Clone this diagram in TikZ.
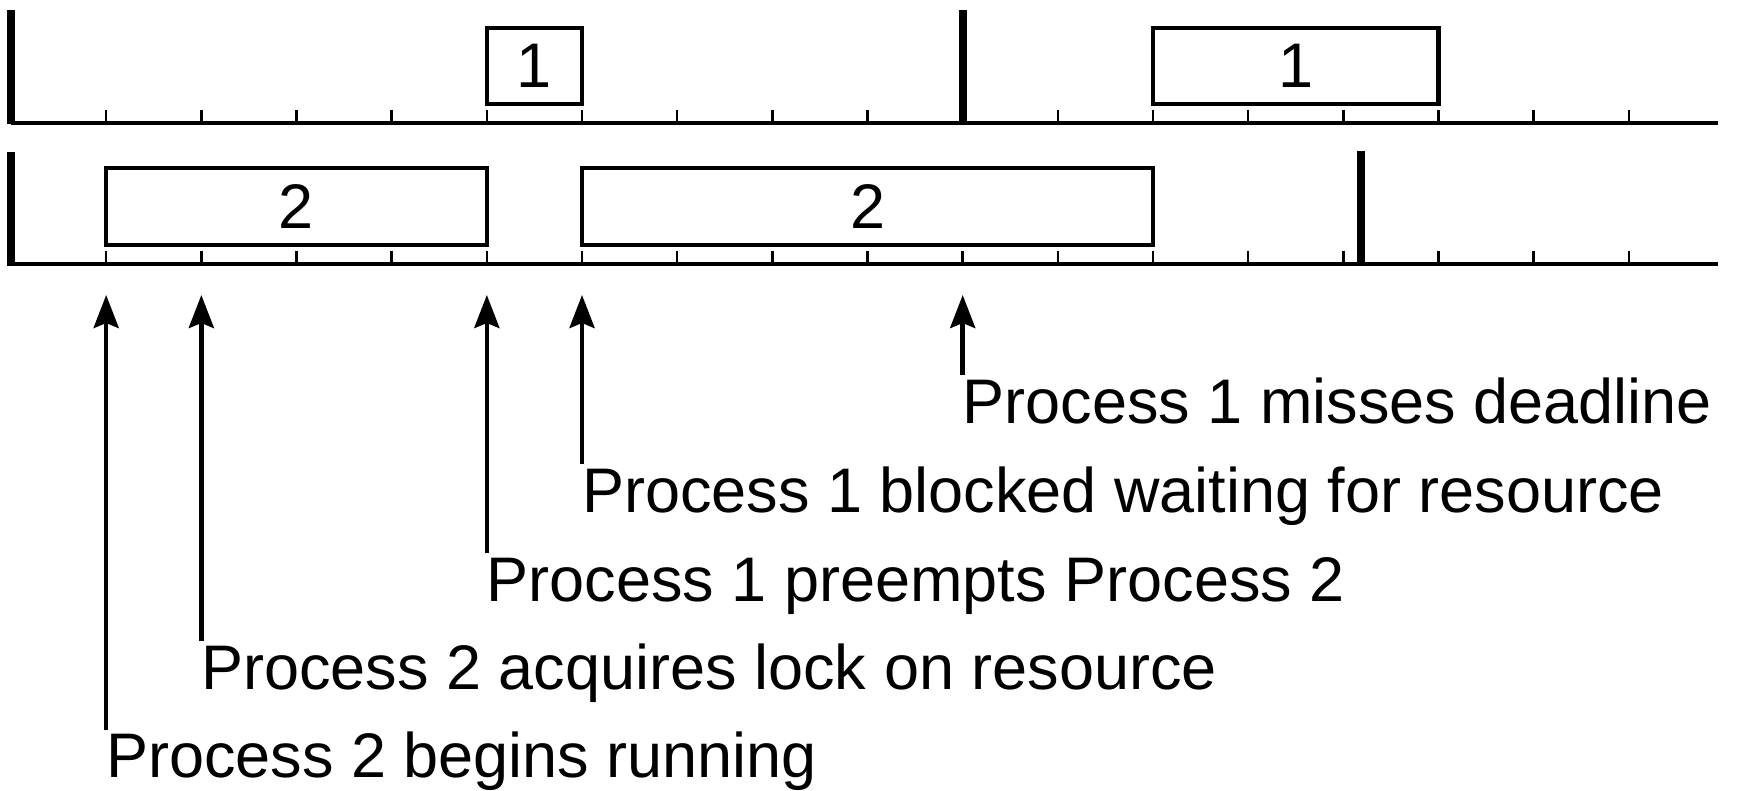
\documentclass[tikz,border=0pt]{standalone}
\usepackage{fontspec}
\setmainfont{Liberation Sans}
\usetikzlibrary{arrows.meta}
\begin{document}
\begin{tikzpicture}[x=1pt,y=-1pt,
  axis/.style={line width=4pt},
  bar/.style={line width=8pt},
  tck/.style={line width=2.5pt},
  slot/.style={draw, line width=4.2pt, inner sep=0pt, outer sep=0pt,
    font=\fontsize{63}{63}\selectfont},
  lbl/.style={anchor=base west, inner sep=0pt, outer sep=0pt,
    font=\fontsize{63}{63}\selectfont},
  arr/.style={line width=4.5pt, -{Stealth[length=33pt,width=25pt,inset=5pt]}}]
\useasboundingbox (0,0) rectangle (1740,791);
\def\u{95.17}
% axes
\draw[axis] (11,122.7) coordinate (ta) -- (1718,122.7) coordinate (tb);
\draw[axis] (11,264) coordinate (ba) -- (1718,264) coordinate (bb);
% ticks
\foreach \t in {1,...,9,11,12,...,17}
  \draw[tck] ({11+\u*\t},110) -- ({11+\u*\t},122.7);
\foreach \t in {1,...,17}
  \draw[tck] ({11+\u*\t},251) -- ({11+\u*\t},264);
% thick bars (deadlines / releases)
\draw[bar] (11,10) -- (11,124.5);
\draw[bar] ({11+\u*10},10) -- ({11+\u*10},124.5);
\draw[bar] (11,152) -- (11,265.8);
\draw[bar] (1361,151) -- (1361,265.8);
% execution slots
\node[slot, minimum width=95.17pt, minimum height=76pt] (p1a) at ({11+\u*5.5},66) {1};
\node[slot, minimum width=285.5pt, minimum height=76pt] (p1b) at ({11+\u*13.5},66) {1};
\node[slot, minimum width=380.7pt, minimum height=77pt] (p2a) at ({11+\u*3},206.5) {2};
\node[slot, minimum width=571pt, minimum height=77pt] (p2b) at ({11+\u*9},206.5) {2};
% labels
\node[lbl] (l1) at ({11+\u*1},777) {Process 2 begins running};
\node[lbl] (l2) at ({11+\u*2},689) {Process 2 acquires lock on resource};
\node[lbl] (l3) at ({11+\u*5},601) {Process 1 preempts Process 2};
\node[lbl] (l4) at ({11+\u*6},512) {Process 1 blocked waiting for resource};
\node[lbl] (l5) at ({11+\u*10},423) {Process 1 misses deadline};
% arrow ends
\foreach \i/\t/\s in {1/1/730, 2/2/641, 3/5/553, 4/6/464, 5/10/375} {
  \coordinate (s\i) at ({11+\u*\t},\s);
  \coordinate (a\i) at ({11+\u*\t},295);
}
\draw[arr] (s1) -- (a1);
\draw[arr] (s2) -- (a2);
\draw[arr] (s3) -- (a3);
\draw[arr] (s4) -- (a4);
\draw[arr] (s5) -- (a5);
\end{tikzpicture}
\end{document}
